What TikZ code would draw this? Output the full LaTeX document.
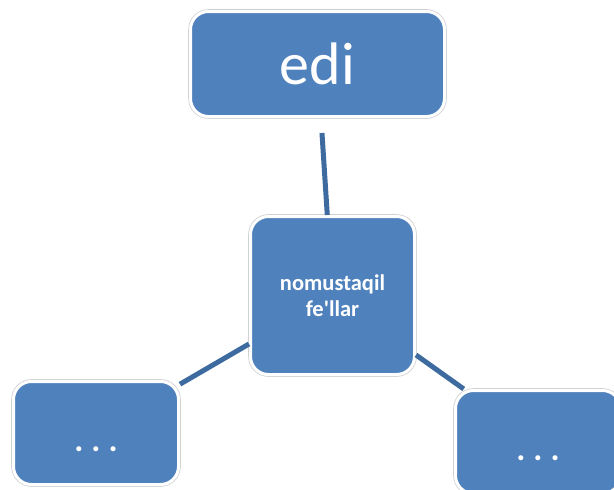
\documentclass[tikz,border=0pt]{standalone}
\usepackage{fontspec}
\newfontfamily\carlito{Carlito}
\usepackage{xcolor}
\definecolor{boxblue}{HTML}{4F81BD}
\definecolor{linkblue}{HTML}{3E6B9F}

\begin{document}
\begin{tikzpicture}[x=1pt, y=-1pt,
    box/.style={rectangle, rounded corners=18pt, fill=boxblue, draw=white, line width=3pt,
        preaction={draw=black!18, line width=4.6pt}, text=white, align=center, inner sep=0pt},
    link/.style={draw=linkblue, line width=5pt}]
    \useasboundingbox (0,0) rectangle (614,490);
    \node [box, minimum width=254pt, minimum height=105pt, font=\carlito\fontsize{60}{72}\selectfont] (edi) at (317.5,64) {edi};
    \node [box, minimum width=164pt, minimum height=158pt, font=\carlito\bfseries\fontsize{22.5}{26}\selectfont] (fel) at (332.5,295.5) {nomustaqil\\fe'llar};
    \foreach \name/\x/\y in {left/96/433, right/538/442}
    {
        \node [box, minimum width=165pt, minimum height=103pt, text height=36pt, text depth=0pt,
            font=\carlito\bfseries\fontsize{34}{40}\selectfont] (\name) at (\x,\y) {.\hspace{8pt}.\hspace{8pt}.};
    }
    \draw [link, shorten <=15pt] (edi) -- (fel);
    \draw [link] (fel) -- (left);
    \draw [link] (fel) -- (right);
\end{tikzpicture}
\end{document}
